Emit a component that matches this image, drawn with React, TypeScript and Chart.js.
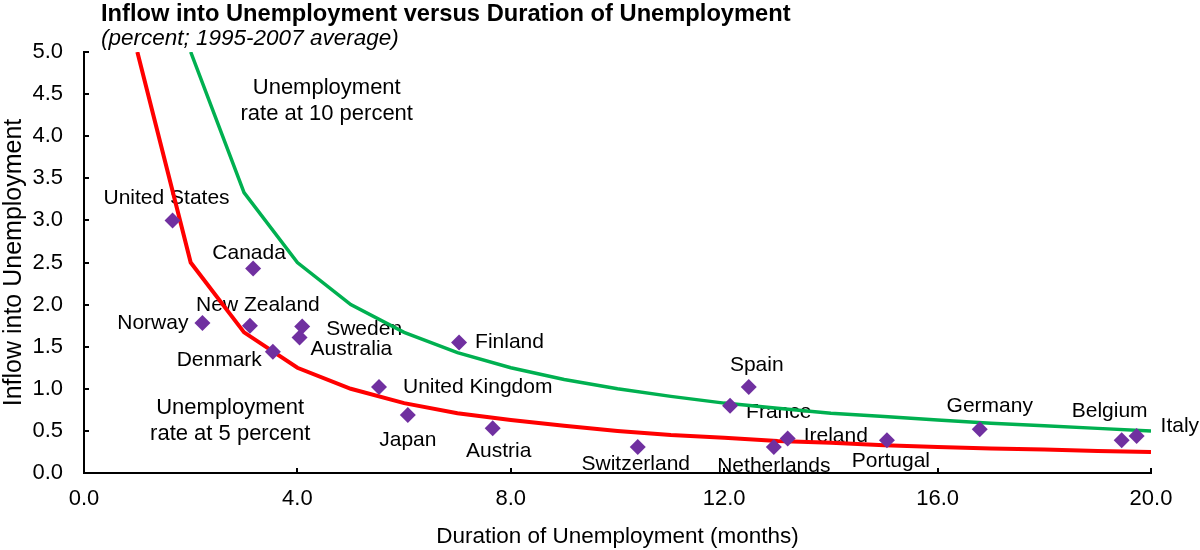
import React, { useEffect, useRef } from 'react';
import { Chart, registerables } from 'chart.js';

Chart.register(...registerables);

const FONT = '"Liberation Sans", Arial, Helvetica, sans-serif';

// Country observations: duration of unemployment (months) vs inflow into unemployment (percent)
const countries = [
  'United States', 'Canada', 'Norway', 'New Zealand', 'Denmark', 'Sweden', 'Australia',
  'Finland', 'United Kingdom', 'Japan', 'Austria', 'Switzerland', 'Spain', 'France',
  'Netherlands', 'Ireland', 'Portugal', 'Germany', 'Belgium', 'Italy',
];
const durations = [
  1.66, 3.17, 2.22, 3.11, 3.54, 4.09, 4.04,
  7.03, 5.53, 6.07, 7.66, 10.38, 12.46, 12.11,
  12.93, 13.19, 15.05, 16.79, 19.45, 19.73,
];
const inflows = [
  3.00, 2.43, 1.78, 1.75, 1.44, 1.74, 1.61,
  1.55, 1.02, 0.69, 0.53, 0.31, 1.02, 0.80,
  0.31, 0.41, 0.39, 0.52, 0.39, 0.44,
];

// Iso-unemployment curves
const curve5X = [1, 2, 3, 4, 5, 6, 7, 8, 9, 10, 11, 12, 13, 14, 15, 16, 17, 18, 19, 20];
const curve5Y = [5.0, 2.5, 1.67, 1.25, 1.0, 0.83, 0.71, 0.63, 0.56, 0.5, 0.45, 0.42, 0.38, 0.36, 0.33, 0.31, 0.29, 0.28, 0.26, 0.25];
const curve10X = [2, 3, 4, 5, 6, 7, 8, 9, 10, 11, 12, 13, 14, 15, 16, 17, 18, 19, 20];
const curve10Y = [5.0, 3.33, 2.5, 2.0, 1.67, 1.43, 1.25, 1.11, 1.0, 0.91, 0.83, 0.77, 0.71, 0.67, 0.63, 0.59, 0.56, 0.53, 0.5];

const xTicks = [0, 4, 8, 12, 16, 20];
const yTicks = [0, 0.5, 1, 1.5, 2, 2.5, 3, 3.5, 4, 4.5, 5];

const titleText = 'Inflow into Unemployment versus Duration of Unemployment';
const subtitleText = '(percent; 1995-2007 average)';
const xTitle = 'Duration of Unemployment (months)';
const yTitle = 'Inflow into Unemployment';

// label placement relative to each marker: [dx, dy, align]
const labelPlacement: [number, number, CanvasTextAlign][] = [
  [-6, -22, 'center'], [-4, -15, 'center'], [-14, 0, 'right'], [8, -20, 'center'],
  [-11, 8, 'right'], [24, 3, 'left'], [11, 12, 'left'], [16, 0, 'left'],
  [24, 0, 'left'], [0, 25, 'center'], [6, 23, 'center'], [-2, 17, 'center'],
  [8, -22, 'center'], [16, 7, 'left'], [0, 19, 'center'], [16, -2, 'left'],
  [4, 21, 'center'], [10, -23, 'center'], [-12, -29, 'center'], [24, -10, 'left'],
];

// curve annotations anchored in data coordinates
const annotations = [
  { lines: ['Unemployment', 'rate at 10 percent'], x: 4.55, y: 4.57 },
  { lines: ['Unemployment', 'rate at 5 percent'], x: 2.74, y: 0.77 },
];

const decorPlugin = {
  id: 'decor',
  beforeDatasetsDraw(chart: any) {
    const ctx = chart.ctx;
    const xs = chart.scales.x;
    const ys = chart.scales.y;
    ctx.save();
    ctx.fillStyle = '#000';
    ctx.textBaseline = 'middle';
    ctx.font = `21px ${FONT}`;
    countries.forEach((name, i) => {
      const [dx, dy, align] = labelPlacement[i];
      ctx.textAlign = align;
      ctx.fillText(name, xs.getPixelForValue(durations[i]) + dx, ys.getPixelForValue(inflows[i]) + dy);
    });
    ctx.textAlign = 'center';
    ctx.font = `22px ${FONT}`;
    annotations.forEach((a) => {
      const px = xs.getPixelForValue(a.x);
      const py = ys.getPixelForValue(a.y);
      a.lines.forEach((ln, j) => ctx.fillText(ln, px, py + j * 26));
    });
    ctx.restore();
  },
  afterDraw(chart: any) {
    const ctx = chart.ctx;
    const xs = chart.scales.x;
    const ys = chart.scales.y;
    const ca = chart.chartArea;
    ctx.save();
    ctx.strokeStyle = '#000';
    ctx.lineWidth = 2;
    ctx.beginPath();
    xs.ticks.forEach((t: any) => {
      const px = Math.round(xs.getPixelForValue(t.value));
      ctx.moveTo(px, ca.bottom);
      ctx.lineTo(px, ca.bottom - 5);
    });
    ys.ticks.forEach((t: any) => {
      const py = Math.round(ys.getPixelForValue(t.value));
      ctx.moveTo(ca.left, py);
      ctx.lineTo(ca.left + 5, py);
    });
    ctx.stroke();
    ctx.fillStyle = '#000';
    ctx.textAlign = 'left';
    ctx.textBaseline = 'middle';
    ctx.font = `bold 23.7px ${FONT}`;
    ctx.fillText(titleText, 101, 14);
    ctx.font = `italic 22.5px ${FONT}`;
    ctx.fillText(subtitleText, 101, 39);
    ctx.restore();
  },
};

export default function App() {
  const ref = useRef<HTMLCanvasElement | null>(null);
  useEffect(() => {
    if (!ref.current) return;
    const chart = new Chart(ref.current, {
      type: 'scatter',
      data: {
        datasets: [
          {
            label: 'Countries',
            data: durations.map((x, i) => ({ x, y: inflows[i] })),
            pointStyle: 'rectRot',
            pointRadius: 8,
            backgroundColor: '#7030A0',
            borderColor: '#7030A0',
            borderWidth: 0,
            order: 0,
          },
          {
            label: 'Unemployment rate at 5 percent',
            data: curve5X.map((x, i) => ({ x, y: curve5Y[i] })),
            showLine: true,
            borderColor: '#FF0000',
            borderWidth: 4,
            pointRadius: 0,
            tension: 0,
            order: 1,
          },
          {
            label: 'Unemployment rate at 10 percent',
            data: curve10X.map((x, i) => ({ x, y: curve10Y[i] })),
            showLine: true,
            borderColor: '#00B050',
            borderWidth: 3.5,
            pointRadius: 0,
            tension: 0,
            order: 2,
          },
        ] as any,
      },
      options: {
        animation: false,
        responsive: true,
        maintainAspectRatio: false,
        layout: { padding: { top: 52, right: 49, left: 0, bottom: 0 } },
        plugins: {
          legend: { display: false },
          tooltip: { enabled: false },
          title: { display: false },
        },
        scales: {
          x: {
            type: 'linear',
            min: 0,
            max: 20,
            afterBuildTicks: (s: any) => { s.ticks = xTicks.map((v) => ({ value: v })); },
            afterFit: (s: any) => { s.height = 77; },
            grid: { display: false, drawTicks: false },
            border: { display: true, color: '#000', width: 2 },
            ticks: {
              padding: 13,
              color: '#000',
              font: { family: FONT, size: 22 },
              maxRotation: 0,
              autoSkip: false,
              callback: (v: any) => Number(v).toFixed(1),
            },
            title: {
              display: true,
              text: xTitle,
              color: '#000',
              font: { family: FONT, size: 22.5 },
              padding: { top: 0, bottom: 0 },
            },
          },
          y: {
            type: 'linear',
            min: 0,
            max: 5,
            afterBuildTicks: (s: any) => { s.ticks = yTicks.map((v) => ({ value: v })); },
            afterFit: (s: any) => { s.width = 84; },
            grid: { display: false, drawTicks: false },
            border: { display: true, color: '#000', width: 2 },
            ticks: {
              padding: 21,
              color: '#000',
              font: { family: FONT, size: 22 },
              autoSkip: false,
              callback: (v: any) => Number(v).toFixed(1),
            },
            title: {
              display: true,
              text: yTitle,
              color: '#000',
              font: { family: FONT, size: 25 },
              padding: { top: -1, bottom: 0 },
            },
          },
        },
      },
      plugins: [decorPlugin],
    } as any);
    return () => chart.destroy();
  }, []);
  return (
    <div style={{ position: 'fixed', left: 0, top: 0, width: 1200, height: 550, background: '#fff' }}>
      <canvas ref={ref} />
    </div>
  );
}
